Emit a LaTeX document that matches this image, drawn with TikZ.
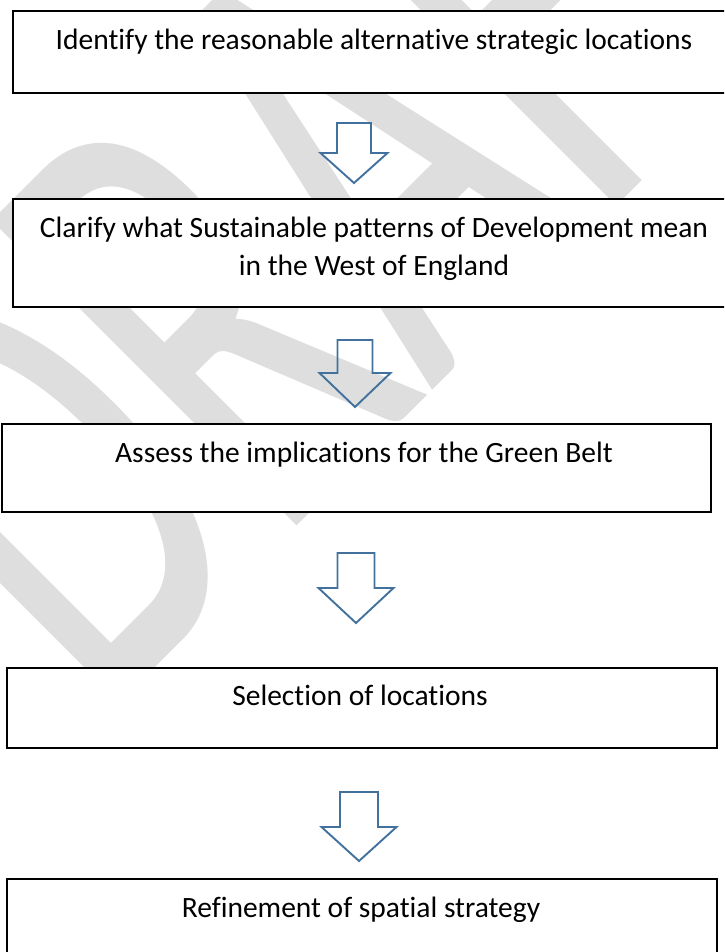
\documentclass[tikz,border=0pt]{standalone}
\usepackage{fontspec}
\setmainfont{Carlito}[Ligatures = NoCommon]
\definecolor{arrowblue}{RGB}{65,113,156}
\tikzset{
  box/.style = {draw = black, line width = 1.9pt, fill = white, inner sep = 0pt},
  boxtext/.style = {inner sep = 0pt, align = center,
    font = \fontsize{29.5}{38}\selectfont},
  blockarrow/.style = {draw = arrowblue, line width = 1.9pt, line join = miter},
  wmark/.style = {text = gray!26, inner sep = 0pt,
    font = \fontsize{405}{405}\selectfont}
}
\begin{document}
\begin{tikzpicture}[x = 1pt, y = -1pt]
  \useasboundingbox (0, 0) rectangle (724, 952);
  \clip (0, 0) rectangle (724, 952);

  % watermark
  \node[wmark, rotate = 45, anchor = base west] (draft) at (100, 723)
    {\scalebox{1}[1.66]{DRAFT}};

  \node[box, anchor = north west, minimum width = 740pt, minimum height = 82pt] (b1) at (12, 10) {};
  \node[box, anchor = north west, minimum width = 740pt, minimum height = 108pt] (b2) at (12, 198) {};
  \node[box, anchor = north west, minimum width = 709pt, minimum height = 88pt] (b3) at (1, 423) {};
  \node[box, anchor = north west, minimum width = 710pt, minimum height = 80pt] (b4) at (6, 667) {};
  \node[box, anchor = north west, minimum width = 710pt, minimum height = 90pt] (b5) at (6, 878) {};

  \node[boxtext, anchor = base] (t1) at (374, 50)
    {Identify the reasonable alternative strategic locations};
  \node[boxtext, anchor = base] (t2) at (374, 275)
    {Clarify what Sustainable patterns of Development mean\\in the West of England};
  \node[boxtext, anchor = base] (t3) at (364, 462)
    {Assess the implications for the Green Belt};
  \node[boxtext, anchor = base] (t4) at (360, 705) {Selection of locations};
  \node[boxtext, anchor = base] (t5) at (361, 917) {Refinement of spatial strategy};

  % block arrows: centre / top / half shaft / half head / shaft / head
  \foreach \cx/\top/\sw/\hw/\sl/\hl in
    {354/123/17/33.5/30/30, 355/340/17.5/35.5/33/34,
     356/553/18.5/37.5/35/35, 359/792/19/37.5/35/34}
    \draw[blockarrow] (\cx-\sw, \top) -- (\cx+\sw, \top) -- (\cx+\sw, \top+\sl)
      -- (\cx+\hw, \top+\sl) -- (\cx, \top+\sl+\hl) -- (\cx-\hw, \top+\sl)
      -- (\cx-\sw, \top+\sl) -- cycle;
\end{tikzpicture}
\end{document}
